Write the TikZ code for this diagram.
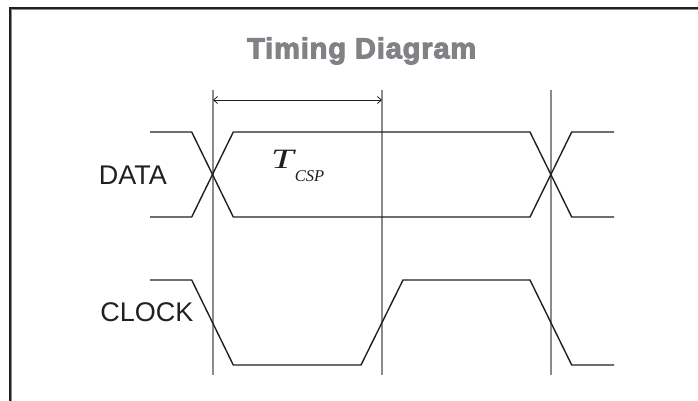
\documentclass[tikz,border=0pt]{standalone}
\usepackage{fontspec}
\setmainfont{Liberation Sans}
\newfontfamily\titlefont[FakeBold=3.5,LetterSpace=3]{Liberation Sans Bold}
\newfontfamily\serifit{Liberation Serif Italic}
\usetikzlibrary{arrows.meta}
\definecolor{ink}{HTML}{231F20}
\definecolor{guide}{HTML}{8A8B8E}
\definecolor{titlegray}{HTML}{808285}
\tikzset{
  signal/.style={draw=ink, line width=1.4pt, line join=miter},
  guideline/.style={draw=guide, line width=1.3pt},
  dim/.style={draw=ink, line width=0.8pt, {Straight Barb[length=4pt,width=7pt]}-{Straight Barb[length=4pt,width=7pt]}},
  lbl/.style={text=ink, font=\fontsize{27}{30}\selectfont, inner sep=0pt, anchor=base east},
}
\begin{document}
\begin{tikzpicture}[x=1pt,y=-1pt]
\useasboundingbox (0,0) rectangle (698,400);
% frame
\draw[draw=guide, line width=1pt] (11.5,420) -- (11.5,9.5) -- (720,9.5);
\draw[draw=ink, line width=1.3pt] (10,420) -- (10,8) -- (720,8);
% title
\node[text=titlegray, font=\titlefont\fontsize{29}{32}\selectfont, inner sep=0pt, anchor=base] (title) at (361.7,58.3) {Timing Diagram};
% guide lines
\coordinate (g1t) at (213,90); \coordinate (g1b) at (213,375);
\coordinate (g2t) at (382,90); \coordinate (g2b) at (382,375);
\coordinate (g3t) at (551,90); \coordinate (g3b) at (551,375);
\draw[guideline] (g1t) -- (g1b);
\draw[guideline] (g2t) -- (g2b);
\draw[guideline] (g3t) -- (g3b);
% dimension arrow
\coordinate (a1) at (213,100); \coordinate (a2) at (382,100);
\draw[dim] (a1) -- (a2);
% DATA signal
\draw[signal] (150,132) -- (191.7,132) -- (233.3,217) -- (530,217) -- (571.7,132) -- (614,132);
\draw[signal] (150,217) -- (191.7,217) -- (233.3,132) -- (530,132) -- (571.7,217) -- (614,217);
% CLOCK signal
\draw[signal] (150,280) -- (191.7,280) -- (233.3,365) -- (361,365) -- (403,280) -- (530,280) -- (571.7,365) -- (614,365);
% labels
\node[lbl] (data) at (167,184.3) {DATA};
\node[lbl] (clock) at (193.5,321) {CLOCK};
\node[text=ink, inner sep=0pt, anchor=base west] (tcsp) at (271,168.3) {\serifit\fontsize{28}{30}\selectfont\scalebox{1.45}[1]{T}\hspace{1pt}\raisebox{-13pt}{\fontsize{16.5}{18}\selectfont CSP}};
\end{tikzpicture}
\end{document}
